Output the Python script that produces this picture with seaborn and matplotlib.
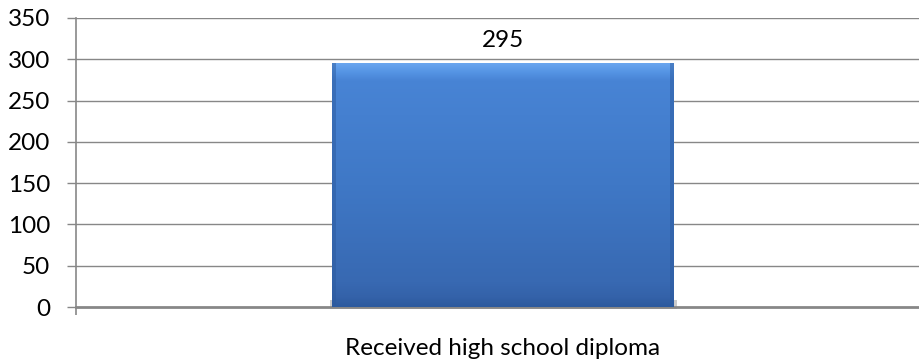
import numpy as np
import pandas as pd
import matplotlib
matplotlib.use("Agg")
import matplotlib.pyplot as plt
import seaborn as sns
from matplotlib.colors import LinearSegmentedColormap
from matplotlib.patches import Rectangle

categories = ["Received high school diploma"]
counts = [295]
y_ticks = [0, 50, 100, 150, 200, 250, 300, 350]

df = pd.DataFrame({"category": categories, "count": counts})

sns.set_theme(style="white")
plt.rcParams["font.family"] = ["Lato", "DejaVu Sans"]

W, H, DPI = 920, 364, 100
FS = 17.5
fig = plt.figure(figsize=(W / DPI, H / DPI), dpi=DPI)
left, right, top, bottom = 76, 930, 18, 307
ax = fig.add_axes([left / W, (H - bottom) / H, (right - left) / W, (bottom - top) / H])

grid_col = "#878787"
base_col = "#3f78c6"

sns.barplot(data=df, x="category", y="count", ax=ax, width=0.40,
            color=base_col, saturation=1, edgecolor="none", zorder=3)

ax.set_ylim(0, 350)
ax.set_xlim(-0.5, 0.5)
ax.set_yticks(y_ticks)
ax.set_yticklabels([str(v) for v in y_ticks])
for v in y_ticks[1:]:
    ax.axhline(v, color=grid_col, lw=1.0, zorder=1)

# Bevelled gradient fill for each bar
grad = LinearSegmentedColormap.from_list(
    "bevel",
    [(0.0, "#2c5a9e"), (0.04, "#3462a9"), (0.10, "#3869b2"),
     (0.5, "#3f78c6"), (0.93, "#4884d5"), (0.965, "#5594e4"), (1.0, "#6aa6ef")])
for patch in ax.patches:
    x0, y0 = patch.get_x(), patch.get_y()
    w, h = patch.get_width(), patch.get_height()
    # soft shadow under the bar
    ax.add_patch(Rectangle((x0 - 0.002, y0 - 3), w + 0.006, 12, facecolor="#b5b5b5",
                           edgecolor="none", alpha=0.7, zorder=2, clip_on=False))
    img = ax.imshow(np.linspace(0, 1, 256).reshape(-1, 1), cmap=grad, aspect="auto",
                    extent=(x0, x0 + w, y0, y0 + h), origin="lower", zorder=4,
                    interpolation="bilinear")
    img.set_clip_path(patch)
    # darker side edges
    ex = w * 0.012
    for sx in (x0, x0 + w - ex):
        ax.add_patch(Rectangle((sx, y0), ex, h, facecolor="#2c5a9e", alpha=0.5,
                               edgecolor="none", zorder=5))
ax.set_xlim(-0.5, 0.5)
ax.set_ylim(0, 350)

ax.bar_label(ax.containers[0], labels=[str(v) for v in counts], padding=9,
             fontsize=FS, color="#000000", zorder=6)

for s in ("top", "right"):
    ax.spines[s].set_visible(False)
ax.spines["left"].set_color(grid_col)
ax.spines["left"].set_linewidth(1.2)
ax.spines["bottom"].set_color(grid_col)
ax.spines["bottom"].set_linewidth(2.0)

ax.tick_params(axis="y", which="major", direction="out", length=6.5, width=1.0,
               color=grid_col, pad=12, labelsize=FS, labelcolor="#000000", left=True)
ax.set_xticks([0])
ax.set_xticklabels(categories)
ax.set_xticks([-0.5], minor=True)
ax.tick_params(axis="x", which="major", length=0, pad=22, labelsize=FS, labelcolor="#000000")
ax.tick_params(axis="x", which="minor", direction="out", length=6, width=1.2,
               color=grid_col, bottom=True)
ax.set_xlabel("")
ax.set_ylabel("")
ax.grid(False)

fig.savefig("out.png", dpi=DPI, facecolor="white")
